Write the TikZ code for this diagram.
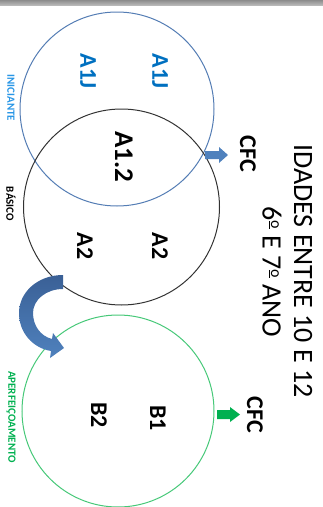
\documentclass[tikz,border=0pt]{standalone}
\usepackage{fontspec}
\setmainfont{Carlito}
\definecolor{ringblue}{RGB}{84,125,180}
\definecolor{ringgreen}{RGB}{70,200,120}
\definecolor{ringblack}{RGB}{50,50,50}
\definecolor{textblue}{RGB}{0,112,192}
\definecolor{tagblue}{RGB}{40,150,230}
\definecolor{taggreen}{RGB}{0,176,80}
\definecolor{arrowblue}{RGB}{79,129,189}
\definecolor{arrowdark}{RGB}{58,96,150}
\definecolor{arrowgreen}{RGB}{0,176,80}
% masculine ordinal drawn as a raised, underlined small o
\newcommand{\ordmasc}{\raisebox{0.3em}{\fontsize{16}{16}\selectfont\underline{o}}}
\begin{document}
\begin{tikzpicture}[x=1pt,y=-1pt,
  ring/.style={circle,inner sep=0pt,line width=1pt},
  lbl/.style={rotate=-90,inner sep=0pt,font=\bfseries\fontsize{24}{26}\selectfont},
  tag/.style={rotate=-90,inner sep=0pt,font=\bfseries\fontsize{11}{12}\selectfont},
  title/.style={rotate=-90,inner sep=0pt,font=\fontsize{28}{30}\selectfont}]
\useasboundingbox (0,0) rectangle (323,507);
% window edge at the top
\shade[top color=black!45,bottom color=black!28] (0,0) rectangle (323,5);

% level circles
\node[ring,draw=ringblue,minimum size=194pt] (ini) at (117,109) {};
\node[ring,draw=ringblack,minimum size=196pt] (bas) at (121.5,207) {};
\node[ring,draw=ringgreen,minimum size=192pt] (ape) at (118,411) {};

% level names
\node[tag,text=tagblue] (tini) at (11,98) {INICIANTE};
\node[tag,text=black] (tbas) at (11,204) {BÁSICO};
\node[tag,text=taggreen] (tape) at (11,417) {APERFEIÇOAMENTO};

% course levels
\node[lbl,text=textblue] (a1ja) at (88,71) {A1J};
\node[lbl,text=textblue] (a1jb) at (160,71) {A1J};
\node[lbl,font=\bfseries\fontsize{27}{29}\selectfont] (a12) at (124,157) {A1.2};
\node[lbl] (a2a) at (85,246) {A2};
\node[lbl] (a2b) at (160,246) {A2};
\node[lbl] (b2) at (99,415) {B2};
\node[lbl] (b1) at (158,418) {B1};

% certificates
\node[lbl] (cfc1) at (248,154) {CFC};
\node[lbl] (cfc2) at (255,415) {CFC};

% heading
\node[title] (t1) at (303,271) {IDADES ENTRE 10 E 12};
\node[title] (t2) at (272,272) {6\ordmasc{} E 7\ordmasc{} ANO};

% block arrows towards the certificates
\fill[arrowblue] (205,151) -- (219,151) -- (219,147) -- (228,155) -- (219,163) -- (219,159) -- (205,159) -- cycle;
\fill[arrowgreen] (217,410) -- (230,410) -- (230,407) -- (240,414.5) -- (230,422) -- (230,419) -- (217,419) -- cycle;

% curved arrow from BÁSICO to APERFEIÇOAMENTO
\shade[top color=arrowdark,bottom color=arrowblue]
  (63,275) .. controls (38,275) and (19,292) .. (19,313)
  .. controls (19,333) and (33,348) .. (51,351)
  -- (50,358) -- (64,348) -- (53,333) -- (52,339)
  .. controls (40,336) and (33,325) .. (33,313)
  .. controls (33,300) and (46,289) .. (63,289) -- cycle;
\end{tikzpicture}
\end{document}
